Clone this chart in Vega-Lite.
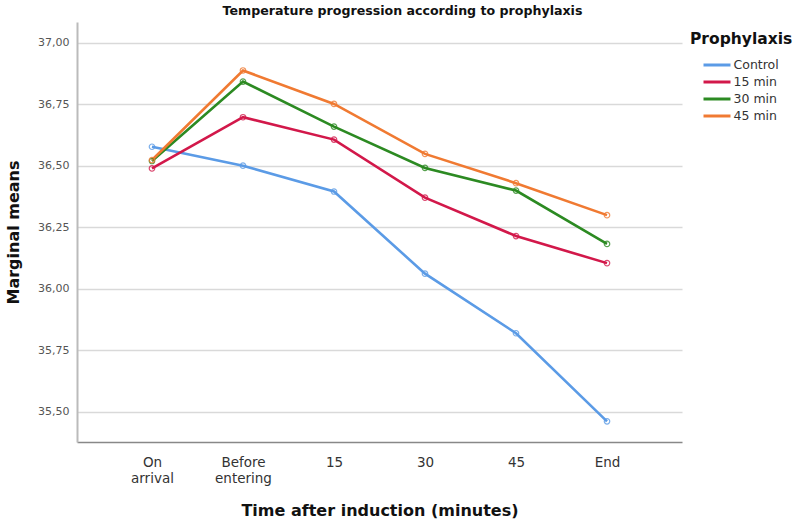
{
  "$schema": "https://vega.github.io/schema/vega-lite/v6.json",
  "autosize": {"type": "none"},
  "width": 605,
  "height": 420,
  "padding": {"left": 77, "top": 22, "right": 115, "bottom": 85},
  "background": "white",
  "config": {"view": {"stroke": null}},
  "title": {
    "text": "Temperature progression according to prophylaxis",
    "font": "DejaVu Sans",
    "fontSize": 12.6,
    "fontWeight": "bold",
    "color": "#111",
    "anchor": "middle",
    "dx": 23,
    "offset": 4
  },
  "data": {
    "values": [
      {"time": "On arrival", "group": "Control", "mean": 36.578},
      {"time": "Before entering", "group": "Control", "mean": 36.501},
      {"time": "15", "group": "Control", "mean": 36.396},
      {"time": "30", "group": "Control", "mean": 36.062},
      {"time": "45", "group": "Control", "mean": 35.82},
      {"time": "End", "group": "Control", "mean": 35.462},
      {"time": "On arrival", "group": "15 min", "mean": 36.49},
      {"time": "Before entering", "group": "15 min", "mean": 36.698},
      {"time": "15", "group": "15 min", "mean": 36.607},
      {"time": "30", "group": "15 min", "mean": 36.371},
      {"time": "45", "group": "15 min", "mean": 36.215},
      {"time": "End", "group": "15 min", "mean": 36.105},
      {"time": "On arrival", "group": "30 min", "mean": 36.52},
      {"time": "Before entering", "group": "30 min", "mean": 36.843},
      {"time": "15", "group": "30 min", "mean": 36.66},
      {"time": "30", "group": "30 min", "mean": 36.492},
      {"time": "45", "group": "30 min", "mean": 36.40},
      {"time": "End", "group": "30 min", "mean": 36.183},
      {"time": "On arrival", "group": "45 min", "mean": 36.524},
      {"time": "Before entering", "group": "45 min", "mean": 36.888},
      {"time": "15", "group": "45 min", "mean": 36.752},
      {"time": "30", "group": "45 min", "mean": 36.549},
      {"time": "45", "group": "45 min", "mean": 36.43},
      {"time": "End", "group": "45 min", "mean": 36.30}
    ]
  },
  "encoding": {
    "x": {
      "field": "time",
      "type": "ordinal",
      "sort": ["On arrival", "Before entering", "15", "30", "45", "End"],
      "scale": {"type": "point", "padding": 0.824},
      "axis": {
        "title": "Time after induction (minutes)",
        "titleFont": "DejaVu Sans",
        "titleFontSize": 16,
        "titleFontWeight": "bold",
        "titleColor": "#111",
        "titlePadding": 18,
        "labelFont": "DejaVu Sans",
        "labelFontSize": 13.5,
        "labelLineHeight": 16,
        "labelColor": "#333",
        "labelPadding": 13,
        "labelAngle": 0,
        "labelExpr": "datum.label == 'On arrival' ? ['On', 'arrival'] : datum.label == 'Before entering' ? ['Before', 'entering'] : datum.label",
        "ticks": false,
        "domainColor": "#888",
        "domainWidth": 1.5,
        "grid": false
      }
    },
    "y": {
      "field": "mean",
      "type": "quantitative",
      "scale": {"domain": [35.378, 37.085], "nice": false, "zero": false},
      "axis": {
        "title": "Marginal means",
        "titleFont": "DejaVu Sans",
        "titleFontSize": 16,
        "titleFontWeight": "bold",
        "titleColor": "#111",
        "titlePadding": 16,
        "values": [35.5, 35.75, 36, 36.25, 36.5, 36.75, 37],
        "labelExpr": "replace(format(datum.value, '.2f'), '.', ',')",
        "labelFont": "DejaVu Sans",
        "labelFontSize": 11,
        "labelColor": "#555",
        "labelPadding": 8,
        "ticks": false,
        "domainColor": "#bbb",
        "domainWidth": 2,
        "grid": true,
        "gridColor": "#d9d9d9",
        "gridWidth": 1.5
      }
    },
    "color": {
      "field": "group",
      "type": "nominal",
      "sort": ["Control", "15 min", "30 min", "45 min"],
      "scale": {
        "domain": ["Control", "15 min", "30 min", "45 min"],
        "range": ["#5B9BE6", "#D2184A", "#2C8A22", "#F07A32"]
      },
      "legend": {
        "title": "Prophylaxis",
        "orient": "none",
        "legendX": 613,
        "legendY": 10,
        "titleFont": "DejaVu Sans",
        "titleFontSize": 15.5,
        "titleFontWeight": "bold",
        "titleColor": "#111",
        "titlePadding": 7,
        "labelFont": "DejaVu Sans",
        "labelFontSize": 12.5,
        "labelColor": "#333",
        "labelOffset": 6,
        "symbolType": "M-1.5,0H1.5",
        "symbolStrokeWidth": 3,
        "symbolSize": 324,
        "symbolOffset": 16.5,
        "rowPadding": 0,
        "offset": 0
      }
    }
  },
  "layer": [
    {"mark": {"type": "line", "strokeWidth": 2.6}},
    {"mark": {"type": "point", "filled": false, "size": 30, "strokeWidth": 1.2, "opacity": 0.8}, "encoding": {"color": {"field": "group", "type": "nominal", "legend": null}}}
  ]
}
